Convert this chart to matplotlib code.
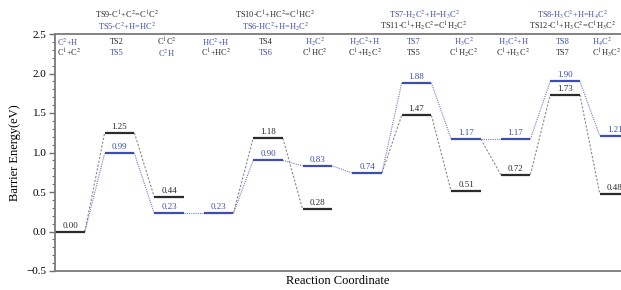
import matplotlib
matplotlib.use("Agg")
import matplotlib.pyplot as plt
from matplotlib.ticker import MultipleLocator

plt.rcParams["font.family"] = ["Liberation Serif", "DejaVu Serif"]
plt.rcParams["mathtext.fontset"] = "stix"

# energies at each reaction step (None = no bar of that colour there)
steps = list(range(1, 13))
blue_E = [None, 0.99, 0.23, 0.23, 0.90, 0.83, 0.74, 1.88, 1.17, 1.17, 1.90, 1.21]
black_E = [0.00, 1.25, 0.44, None, 1.18, 0.28, None, 1.47, 0.51, 0.72, 1.73, 0.48]

# black dashed links: (from step, from colour, to step, to colour)
black_links = [(1, "k", 2, "k"), (2, "k", 3, "k"), (4, "b", 5, "k"), (5, "k", 6, "k"),
               (7, "b", 8, "k"), (8, "k", 9, "k"), (9, "b", 10, "k"), (10, "k", 11, "k"),
               (11, "k", 12, "k")]

# labels under the top spine: (top line, top colour, bottom line, bottom colour)
step_labels = [
    (r"C$^2$+H", "b", r"C$^1$+C$^2$", "k"),
    ("TS2", "k", "TS5", "b"),
    (r"C$^1$C$^2$", "k", r"C$^2$H", "b"),
    (r"HC$^2$+H", "b", r"C$^1$+HC$^2$", "k"),
    ("TS4", "k", "TS6", "b"),
    (r"H$_2$C$^2$", "b", r"C$^1$HC$^2$", "k"),
    (r"H$_2$C$^2$+H", "b", r"C$^1$+H$_2$C$^2$", "k"),
    ("TS7", "b", "TS5", "k"),
    (r"H$_3$C$^2$", "b", r"C$^1$H$_2$C$^2$", "k"),
    (r"H$_3$C$^2$+H", "b", r"C$^1$+H$_3$C$^2$", "k"),
    ("TS8", "b", "TS7", "k"),
    (r"H$_4$C$^2$", "b", r"C$^1$H$_3$C$^2$", "k"),
]

# reaction headers above the plot, centred on the TS steps
header_steps = [2, 5, 8, 11]
header_labels = [
    (r"TS9-C$^1$+C$^2$=C$^1$C$^2$", "k", r"TS5-C$^2$+H=HC$^2$", "b"),
    (r"TS10-C$^1$+HC$^2$=C$^1$HC$^2$", "k", r"TS6-HC$^2$+H=H$_2$C$^2$", "b"),
    (r"TS7-H$_2$C$^2$+H=H$_3$C$^2$", "b", r"TS11-C$^1$+H$_2$C$^2$=C$^1$H$_2$C$^2$", "k"),
    (r"TS8-H$_3$C$^2$+H=H$_4$C$^2$", "b", r"TS12-C$^1$+H$_3$C$^2$=C$^1$H$_3$C$^2$", "k"),
]

colours = {"k": "#2b2b2b", "b": "#3e4db3"}
half = 0.3


def energy(step, c):
    e = blue_E[step - 1] if c == "b" else black_E[step - 1]
    if e is None:
        e = black_E[step - 1] if c == "b" else blue_E[step - 1]
    return e


fig = plt.figure(figsize=(6.21, 2.90), dpi=100)
ax = fig.add_axes([55 / 621, 19 / 290, 566 / 621, 237 / 290])

# blue dotted path runs through every step
for s in steps[:-1]:
    ax.plot([s + half, s + 1 - half], [energy(s, "b"), energy(s + 1, "b")],
            ls=(0, (1, 1)), color="#6f7cc8", lw=0.8)
for s0, c0, s1, c1 in black_links:
    ax.plot([s0 + half, s1 - half], [energy(s0, c0), energy(s1, c1)],
            ls=(0, (2, 1.5)), color="#8a8a8a", lw=0.8)

for s, e in zip(steps, black_E):
    if e is None:
        continue
    ax.plot([s - half, s + half], [e, e], color=colours["k"], lw=1.6, solid_capstyle="butt")
    ax.text(s, e + 0.025, f"{e:.2f}", ha="center", va="bottom", fontsize=6.5, color=colours["k"])
for s, e in zip(steps, blue_E):
    if e is None:
        continue
    ax.plot([s - half, s + half], [e, e], color=colours["b"], lw=1.6, solid_capstyle="butt")
    ax.text(s, e + 0.025, f"{e:.2f}", ha="center", va="bottom", fontsize=6.5, color=colours["b"])

for s, (t1, c1, t2, c2) in zip(steps, step_labels):
    if s == 1:
        x, ha = s - 0.27, "left"
    elif s == 12:
        x, ha = s - 0.46, "left"
    else:
        x, ha = s - 0.05, "center"
    ax.text(x, 2.40, t1, ha=ha, va="center", fontsize=6, color=colours[c1])
    ax.text(x, 2.255, t2, ha=ha, va="center", fontsize=6, color=colours[c2])

for s, (t1, c1, t2, c2) in zip(header_steps, header_labels):
    ax.text(s + 0.15, 2.74, t1, ha="center", va="center", fontsize=6, color=colours[c1], clip_on=False)
    ax.text(s + 0.15, 2.595, t2, ha="center", va="center", fontsize=6, color=colours[c2], clip_on=False)

ax.set_xlim(0.697, 12.13)
ax.set_ylim(-0.5, 2.5)
ax.yaxis.set_major_locator(MultipleLocator(0.5))
ax.yaxis.set_minor_locator(MultipleLocator(0.1))
ax.set_xticks([])
ax.tick_params(axis="y", which="major", length=4, width=1, color="#707070", labelsize=8, pad=2)
ax.tick_params(axis="y", which="minor", length=2, width=0.8, color="#707070")
for sp in ["left", "top", "bottom"]:
    ax.spines[sp].set_color("#7a7a7a")
    ax.spines[sp].set_linewidth(1.3)
ax.spines["right"].set_visible(False)

ax.set_ylabel("Barrier Energy(eV)", fontsize=9, labelpad=4)
ax.set_xlabel("Reaction Coordinate", fontsize=9, labelpad=3)

fig.savefig("out.png", dpi=100)
